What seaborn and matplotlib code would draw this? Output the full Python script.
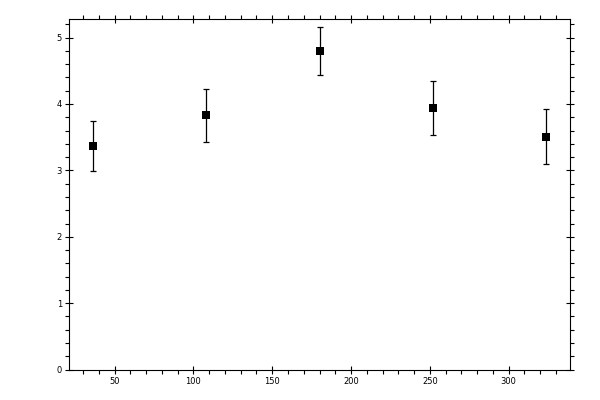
import numpy as np
import seaborn as sns
import matplotlib
matplotlib.use('Agg')
import matplotlib.pyplot as plt
from matplotlib.ticker import MultipleLocator

# Data
angle = [36, 108, 180, 252, 324]
value = [3.37, 3.83, 4.80, 3.94, 3.51]
error = [0.38, 0.40, 0.36, 0.41, 0.42]

sns.set_style('ticks')
plt.rcParams['font.family'] = ['DejaVu Sans']

fig = plt.figure(figsize=(6, 4), dpi=100)
ax = fig.add_axes([0.115, 0.076, 0.835, 0.8765])

# Error bars, then the square markers on top
ax.errorbar(angle, value, yerr=error, fmt='none', ecolor='black',
            elinewidth=0.9, capsize=2.0, capthick=0.9, zorder=2)
sns.scatterplot(x=angle, y=value, marker='s', s=36, color='black',
                edgecolor='black', linewidth=0, ax=ax, zorder=3)

ax.set_xlim(21, 339)
ax.set_ylim(0, 5.28)

ax.xaxis.set_major_locator(MultipleLocator(50))
ax.xaxis.set_minor_locator(MultipleLocator(10))
ax.yaxis.set_major_locator(MultipleLocator(1))
ax.yaxis.set_minor_locator(MultipleLocator(0.2))

for side in ['top', 'right', 'bottom', 'left']:
    ax.spines[side].set_visible(True)
    ax.spines[side].set_linewidth(0.8)
    ax.spines[side].set_color('black')

ax.tick_params(which='major', direction='inout', length=6.2, width=0.8,
               top=True, right=True, labelsize=6, pad=2, color='black',
               labelcolor='black')
ax.tick_params(which='minor', direction='out', length=2.9, width=0.8,
               top=True, right=True, color='black')

fig.savefig('out.png', dpi=100)
